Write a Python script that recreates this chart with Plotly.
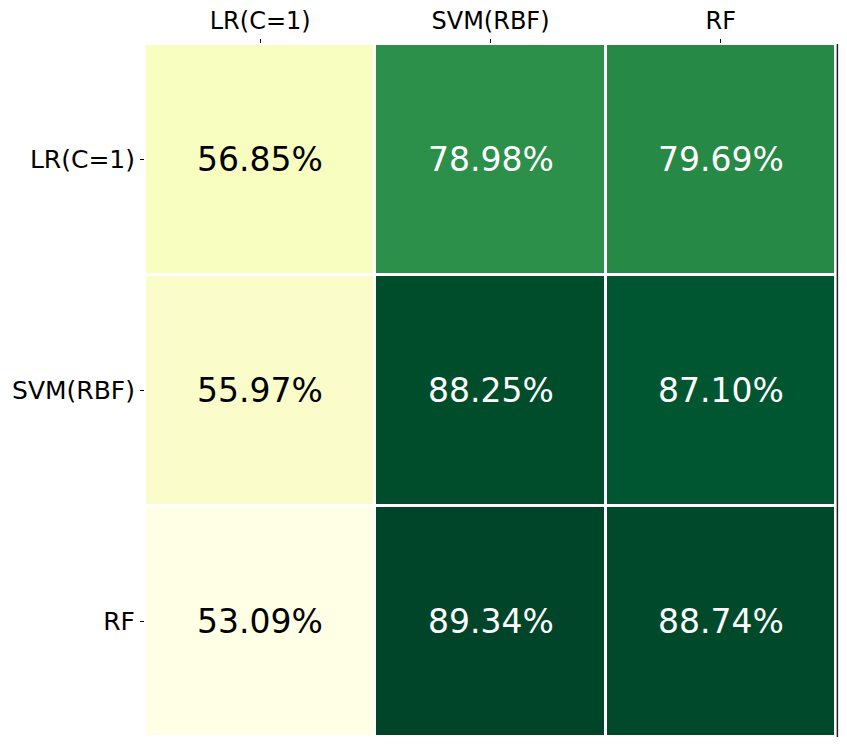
import plotly.graph_objects as go

models = ["LR(C=1)", "SVM(RBF)", "RF"]
# rows: train model, columns: test model (accuracy, %)
accuracy = [
    [56.85, 78.98, 79.69],
    [55.97, 88.25, 87.10],
    [53.09, 89.34, 88.74],
]

ylgn = ["#ffffe5", "#f7fcb9", "#d9f0a3", "#addd8e", "#78c679",
        "#41ab5d", "#238443", "#006837", "#004529"]
scale = [[i / (len(ylgn) - 1), c] for i, c in enumerate(ylgn)]

flat = [v for row in accuracy for v in row]
lo, hi = min(flat), max(flat)
mid = (lo + hi) / 2

fig = go.Figure(go.Heatmap(
    z=accuracy, x=models, y=models,
    colorscale=scale, zmin=lo, zmax=hi,
    xgap=3, ygap=3, showscale=False, hoverinfo="skip",
))

annotations = []
for r, row in enumerate(accuracy):
    for c, v in enumerate(row):
        annotations.append(dict(
            x=models[c], y=models[r], text=f"{v:.2f}%", showarrow=False,
            font=dict(size=33, color="white" if v > mid else "black"),
        ))

# page body adds an 8px offset, so the figure is sized to fit the window
fig.update_layout(
    width=839, height=740,
    margin=dict(l=137, r=11, t=36, b=11),
    paper_bgcolor="white", plot_bgcolor="white",
    font=dict(family="DejaVu Sans", color="black"),
    annotations=annotations,
    shapes=[dict(type="line", xref="paper", yref="paper", x0=1.002, x1=1.002,
                 y0=0, y1=1, line=dict(color="#222", width=1.5))],
)
fig.update_xaxes(side="top", ticks="outside", ticklen=4, tickcolor="black",
                 tickfont=dict(size=24), showgrid=False, zeroline=False,
                 automargin=False)
fig.update_yaxes(autorange="reversed", ticks="outside", ticklen=4, tickcolor="black",
                 tickfont=dict(size=25), showgrid=False, zeroline=False,
                 automargin=False)

fig.write_html("out.html")
